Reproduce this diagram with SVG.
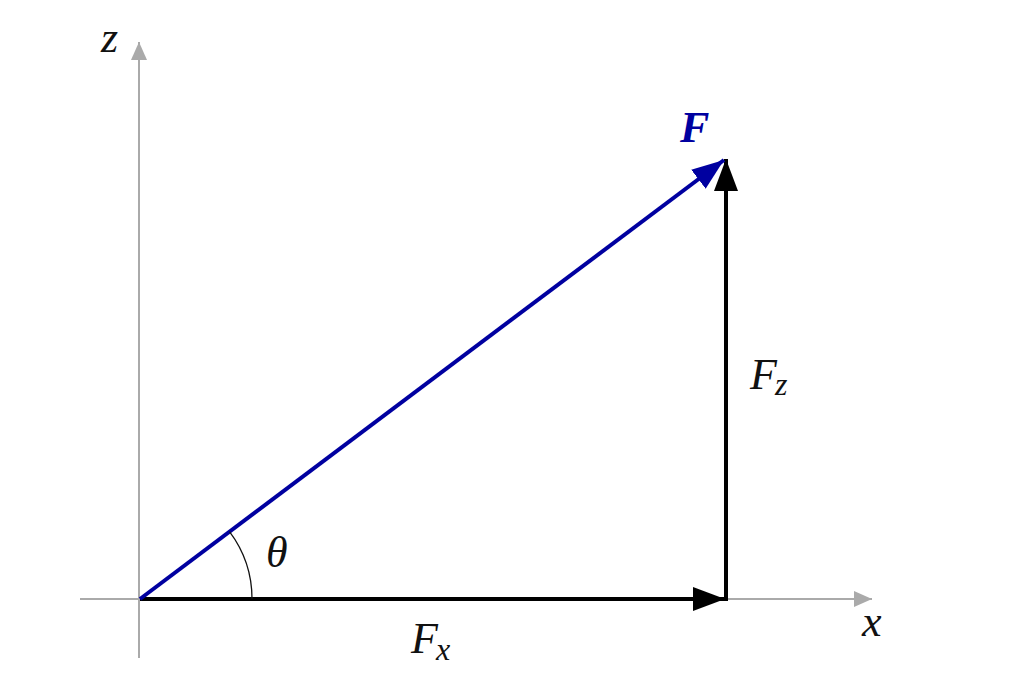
<svg xmlns="http://www.w3.org/2000/svg" width="1018" height="696" viewBox="0 0 1018 696">
<style>
.lbl{font-family:"Liberation Serif","DejaVu Serif",serif;font-style:italic;font-size:44px;fill:#111}
.sub{font-size:32px}
.axis{stroke:#aaaaaa;stroke-width:2;fill:none}
.vec{stroke:#000;stroke-width:4;fill:none}
</style>
<defs>
<marker id="ah-axis" markerUnits="userSpaceOnUse" viewBox="0 0 18 16" refX="18" refY="8" markerWidth="18" markerHeight="16" orient="auto"><path d="M0,0 L18,8 L0,16 Z" fill="#aaaaaa"/></marker>
<marker id="ah-black" markerUnits="userSpaceOnUse" viewBox="0 0 32 24" refX="32" refY="12" markerWidth="32" markerHeight="24" orient="auto"><path d="M0,0 L32,12 L0,24 Z" fill="#000"/></marker>
<marker id="ah-blue" markerUnits="userSpaceOnUse" viewBox="0 0 32 24" refX="32" refY="12" markerWidth="32" markerHeight="24" orient="auto"><path d="M0,0 L32,12 L0,24 Z" fill="#0000a0"/></marker>
</defs>
<rect width="1018" height="696" fill="#fff"/>
<g id="axes">
<line class="axis" x1="80" y1="599" x2="872" y2="599" marker-end="url(#ah-axis)"/>
<line class="axis" x1="139" y1="658" x2="139" y2="42" marker-end="url(#ah-axis)"/>
<text class="lbl" x="101" y="52">z</text>
<text class="lbl" x="862" y="636">x</text>
</g>
<g id="connectors">
<line class="vec" x1="140" y1="599" x2="725" y2="599" marker-end="url(#ah-black)"/>
<line class="vec" x1="726" y1="601" x2="726" y2="159" marker-end="url(#ah-black)"/>
<line x1="140" y1="599" x2="724" y2="160" stroke="#0000a0" stroke-width="4" marker-end="url(#ah-blue)"/>
<path d="M252,599 A112,112 0 0 0 229.5,531.7" fill="none" stroke="#111" stroke-width="1.3"/>
</g>
<g id="labels">
<text class="lbl" x="266" y="567">θ</text>
<text class="lbl" x="680" y="142" style="font-weight:bold;fill:#0000a0">F</text>
<text class="lbl" x="411" y="653">F<tspan class="sub" dx="-2" dy="7">x</tspan></text>
<text class="lbl" x="750" y="389">F<tspan class="sub" dx="-2" dy="6">z</tspan></text>
</g>
</svg>
